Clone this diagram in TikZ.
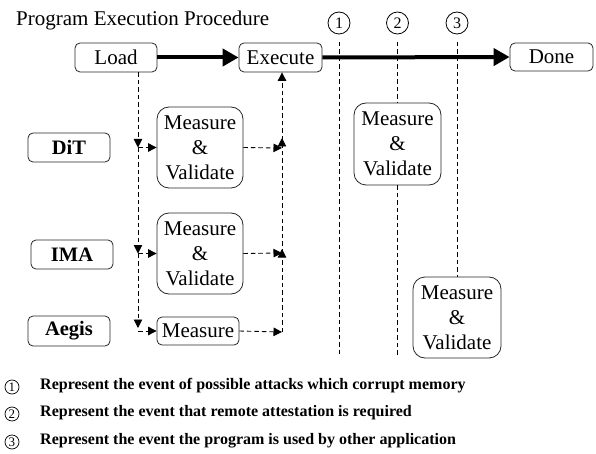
\documentclass[tikz,border=0pt]{standalone}
\usepackage{fontspec}
\setmainfont{Liberation Serif}
\usetikzlibrary{arrows.meta}

\begin{document}
\begin{tikzpicture}[x=1pt,y=-1pt,
  lbl/.style={font=\fontsize{21}{25}\selectfont},
  box/.style={lbl, draw=black!85, line width=0.8pt, rounded corners=5pt, inner sep=0pt,
              minimum width=82pt, minimum height=29pt},
  tag/.style={box, font=\fontsize{20.5}{24}\selectfont\bfseries},
  mv/.style={box, rounded corners=12pt, align=center, minimum width=86pt, minimum height=81pt},
  flow/.style={line width=4pt, -{Triangle[length=16pt,width=17pt]}},
  dsh/.style={line width=0.9pt, dash pattern=on 4.5pt off 3pt, -{Triangle[length=8.5pt,width=8.5pt]}},
  evline/.style={line width=0.8pt, dash pattern=on 4.5pt off 3pt},
  evmark/.style={draw, circle, line width=0.8pt, minimum size=22pt, inner sep=0pt,
                 font=\fontsize{16}{18}\selectfont},
  keymark/.style={draw, circle, line width=0.7pt, minimum size=14pt, inner sep=0pt,
                  font=\fontsize{13}{14}\selectfont},
  keytext/.style={anchor=west, inner sep=0pt, font=\fontsize{16}{19}\selectfont\bfseries}]

\useasboundingbox (0,0) rectangle (596,454);

% title
\node[lbl, anchor=west, inner sep=0pt] (title) at (16,20) {Program Execution Procedure};

% main procedure
\node[box] (load) at (116,57.5) {Load};
\node[box, minimum width=83pt] (exec) at (280.5,57.5) {Execute};
\node[box, minimum width=83pt, minimum height=28pt] (done) at (551.5,57) {Done};

% mechanisms
\node[tag] (dit) at (69,147.5) {DiT};
\node[tag] (ima) at (72,254.5) {IMA};
\node[tag, minimum height=30pt] (aegis) at (69,331) {Aegis};

\node[mv] (mvdit) at (200,147.5) {Measure\\\&\\Validate};
\node[mv] (mvima) at (200,253.5) {Measure\\\&\\Validate};
\node[box, minimum height=28pt] (meas) at (198,331) {Measure};
\node[mv, minimum width=87pt, minimum height=82pt] (mvtwo) at (397.5,144) {Measure\\\&\\Validate};
\node[mv, minimum width=88pt] (mvthree) at (457,317.5) {Measure\\\&\\Validate};

% event markers and their time lines
\node[evmark] (e1) at (339,23) {1};
\node[evmark] (e2) at (397.5,23) {2};
\node[evmark] (e3) at (457,23) {3};

\coordinate (e1top) at (339,42);
\coordinate (e1bot) at (339,357);
\coordinate (e2top) at (397.5,42);
\coordinate (e2bot) at (397.5,357);
\coordinate (e3top) at (457,42);

\draw[evline] (e1top) -- (e1bot);
\draw[evline] (e2top) -- (mvtwo.north);
\draw[evline] (mvtwo.south) -- (e2bot);
\draw[evline] (e3top) -- (mvthree.north);

% main flow arrows
\draw[flow] (load.east) -- (exec.west);
\draw[flow] (exec.east) -- (done.west);

% branch points on the left and right buses
\coordinate (lA) at (138,147.5);
\coordinate (lB) at (138,253.5);
\coordinate (lC) at (138,328);
\coordinate (rA) at (282,148);
\coordinate (rB) at (282,253);
\coordinate (rC) at (282,332);

% left bus: from Load down to each mechanism
\draw[dsh] (load.south -| lA) -- (lA);
\draw[dsh] (lA) -- (lB);
\draw[dsh] (lB) -- (lC);
\draw[dsh] (lA) -- (mvdit.west);
\draw[dsh] (lB) -- (mvima.west);
\draw[dsh] (lC |- meas.west) -- (meas.west);

% right bus: from each mechanism up to Execute
\draw[dsh] (mvdit.east) -- (rA);
\draw[dsh] (mvima.east) -- (rB);
\draw[dsh] (meas.east) -- (rC);
\draw[dsh] (rC) -- ([yshift=4pt]rB);
\draw[dsh] (rB) -- ([yshift=10pt]rA);
\draw[dsh] (rA) -- (exec.south -| rA);

% key
\node[keymark] (k1) at (12,387) {1};
\node[keymark] (k2) at (12,414) {2};
\node[keymark] (k3) at (12,442) {3};
\node[keytext] (t1) at (40,386) {Represent the event of possible attacks which corrupt memory};
\node[keytext] (t2) at (40,413) {Represent the event that remote attestation is required};
\node[keytext] (t3) at (40,441) {Represent the event the program is used by other application};

\end{tikzpicture}
\end{document}
